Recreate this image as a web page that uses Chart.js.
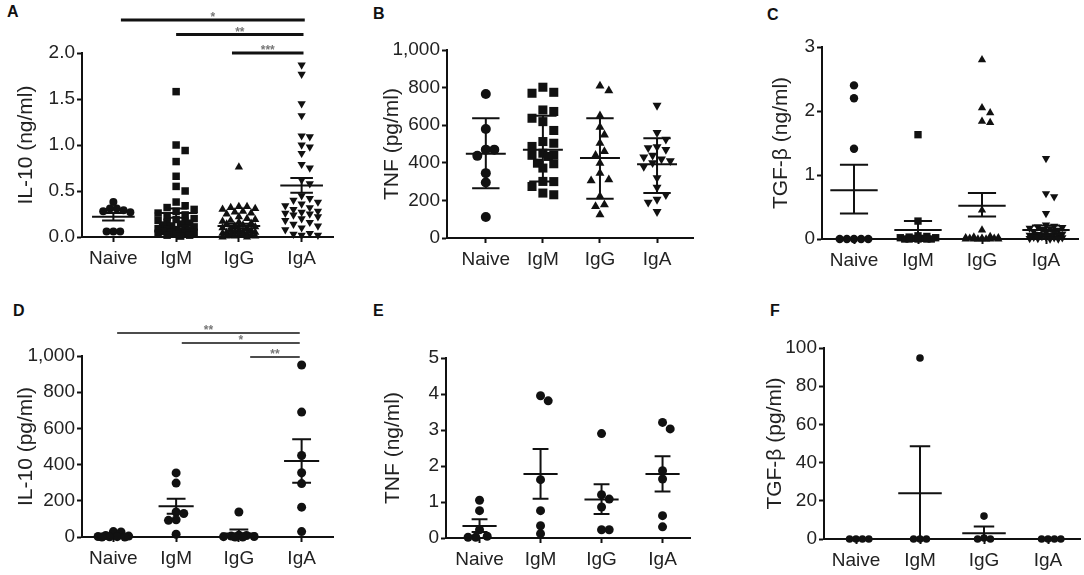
<!DOCTYPE html>
<html>
<head>
<meta charset="utf-8">
<script src="https://cdn.jsdelivr.net/npm/chart.js@4.4.1/dist/chart.umd.min.js"></script>
<style>
  body { margin: 0; background: #fff; width: 1084px; height: 575px; position: relative; overflow: hidden; }
  canvas { position: absolute; }
  .lbl { position: absolute; font: bold 16px Arial, "Liberation Sans", sans-serif; line-height: 1; color: #111; }
</style>
</head>
<body>
<div class="lbl" style="left:7px;top:4px">A</div>
<div class="lbl" style="left:373px;top:6px">B</div>
<div class="lbl" style="left:767px;top:7px">C</div>
<div class="lbl" style="left:13px;top:303px">D</div>
<div class="lbl" style="left:373px;top:303px">E</div>
<div class="lbl" style="left:770px;top:303px">F</div>
<canvas id="chartA"></canvas>
<canvas id="chartB"></canvas>
<canvas id="chartC"></canvas>
<canvas id="chartD"></canvas>
<canvas id="chartE"></canvas>
<canvas id="chartF"></canvas>
<script>
var groups = ["Naive", "IgM", "IgG", "IgA"];

// A - IL-10 (ng/ml)
var aNaive = [0.38, 0.31, 0.31, 0.29, 0.28, 0.27, 0.06, 0.06, 0.06];
var aIgM = [1.58, 1.0, 0.94, 0.82, 0.66, 0.55, 0.50, 0.38, 0.34, 0.32, 0.30, 0.28, 0.26, 0.24, 0.22, 0.20, 0.19, 0.18, 0.17, 0.16,
  0.15, 0.14, 0.13, 0.12, 0.11, 0.10, 0.09, 0.08, 0.08, 0.07, 0.06, 0.06, 0.05, 0.05, 0.04, 0.04, 0.03, 0.02, 0.02, 0.01];
var aIgG = [0.76, 0.33, 0.33, 0.32, 0.31, 0.30, 0.28, 0.27, 0.26, 0.25, 0.22, 0.20, 0.19, 0.18, 0.17, 0.16, 0.15, 0.14, 0.13, 0.12,
  0.11, 0.10, 0.09, 0.08, 0.08, 0.07, 0.06, 0.06, 0.05, 0.05, 0.04, 0.04, 0.03, 0.03, 0.02, 0.02, 0.01, 0.01, 0.01, 0.0, 0.0];
var aIgA = [1.87, 1.77, 1.45, 1.32, 1.10, 1.09, 1.00, 0.98, 0.91, 0.79, 0.75, 0.62, 0.58, 0.45, 0.42, 0.40, 0.38, 0.36, 0.34,
  0.32, 0.30, 0.28, 0.27, 0.26, 0.25, 0.24, 0.22, 0.20, 0.18, 0.16, 0.14, 0.12, 0.10, 0.08, 0.04, 0.03, 0.02, 0.02];
var aMean = [0.22, 0.26, 0.12, 0.56];
var aUpper = [0.26, 0.31, 0.145, 0.64];
var aLower = [0.18, 0.21, 0.095, 0.48];
var aSigFrom = [1.12, 2.0, 2.89];
var aSigTo = [4.05, 4.03, 4.03];
var aSigLevel = [2.36, 2.2, 2.0];
var aSigText = ["*", "**", "***"];

// B - TNF (pg/ml), mean +/- SD
var bNaive = [766, 580, 470, 470, 437, 345, 295, 112];
var bIgM = [802, 775, 770, 681, 673, 637, 619, 572, 513, 504, 487, 451, 442, 440, 434, 398, 395, 372, 301, 300, 274, 239, 230];
var bIgG = [809, 784, 650, 590, 549, 504, 460, 440, 398, 345, 310, 305, 221, 177, 168, 124];
var bIgA = [705, 560, 525, 485, 480, 470, 440, 430, 420, 410, 400, 380, 320, 270, 230, 205, 190, 140];
var bMean = [448, 469, 425, 392];
var bUpper = [637, 650, 637, 530];
var bLower = [265, 300, 209, 240];

// C - TGF-b (ng/ml)
var cNaive = [2.40, 2.20, 1.41, 0, 0, 0, 0, 0];
var cIgM = [1.63, 0.28, 0.05, 0.04, 0.03, 0.02, 0.02, 0.01, 0.01, 0, 0, 0, 0, 0];
var cIgG = [2.80, 2.05, 1.97, 1.84, 1.82, 0.45, 0.14, 0.04, 0.03, 0.02, 0.02, 0.01, 0.01, 0.01, 0, 0, 0, 0, 0, 0, 0];
var cIgA = [1.26, 0.71, 0.66, 0.40, 0.22, 0.20, 0.19, 0.18, 0.17, 0.16, 0.15, 0.14, 0.12, 0.10, 0.09, 0.08, 0.07, 0.06,
  0.05, 0.05, 0.04, 0.03, 0.03, 0.02, 0.02, 0.01, 0.01, 0, 0];
var cMean = [0.76, 0.14, 0.52, 0.14];
var cUpper = [1.16, 0.28, 0.72, 0.21];
var cLower = [0.40, 0.0, 0.35, 0.08];

// D - IL-10 (pg/ml)
var dNaive = [30, 28, 8, 5, 3, 2, 1, 0, 0];
var dIgM = [354, 298, 138, 130, 95, 92, 15];
var dIgG = [138, 10, 8, 5, 3, 2, 0, 0];
var dIgA = [950, 690, 450, 355, 295, 165, 30];
var dMean = [10, 170, 20, 420];
var dUpper = [18, 212, 42, 540];
var dLower = [3, 128, 0, 300];
var dSigFrom = [1.06, 2.09, 3.18];
var dSigTo = [3.97, 3.97, 3.97];
var dSigLevel = [1127, 1072, 994];
var dSigText = ["**", "*", "**"];

// E - TNF (ng/ml)
var eNaive = [1.05, 0.76, 0.23, 0.05, 0.02, 0.02];
var eIgM = [3.95, 3.81, 1.62, 0.76, 0.34, 0.12];
var eIgG = [2.90, 1.20, 1.08, 0.86, 0.23, 0.23];
var eIgA = [3.21, 3.03, 1.87, 1.64, 0.62, 0.31];
var eMean = [0.33, 1.78, 1.07, 1.78];
var eUpper = [0.52, 2.47, 1.49, 2.27];
var eLower = [0.17, 1.09, 0.67, 1.29];

// F - TGF-b (pg/ml)
var fNaive = [0, 0, 0, 0];
var fIgM = [94.8, 0, 0, 0];
var fIgG = [12, 0.5, 0, 0];
var fIgA = [0, 0, 0, 0];
var fMean = [0, 24, 3, 0];
var fUpper = [0, 48.5, 6.5, 0];
var fLower = [0, 0, 0, 0];

var mixedShapes = ["circle", "rect", "triangle", "triangle"];
var mixedRot = [0, 0, 0, 180];
var dots = ["circle", "circle", "circle", "circle"];
var noRot = [0, 0, 0, 0];
var ink = "#111";
var fontFam = 'Arial, "Liberation Sans", sans-serif';

Chart.defaults.font.family = fontFam;
Chart.defaults.color = "#222";

// simple beeswarm: spread points sideways so they don't sit on top of each other
function swarm(vals, r, ppuY, spread) {
  var d = 2 * r * 0.85, step = d / 2;
  var placed = [], offs = [];
  var order = vals.map(function (v, i) { return i; }).sort(function (a, b) { return vals[b] - vals[a]; });
  order.forEach(function (i) {
    var y = vals[i] * ppuY, best = 0, bestGap = -1;
    for (var k = 0; k * step <= spread * 2 + step; k++) {
      var x = (k % 2 ? 1 : -1) * Math.ceil(k / 2) * step;
      if (Math.abs(x) > spread) continue;
      var gap = Infinity;
      placed.forEach(function (q) { gap = Math.min(gap, Math.hypot(q[0] - x, q[1] - y)); });
      if (gap >= d) { best = x; bestGap = gap; break; }
      if (gap > bestGap) { best = x; bestGap = gap; }
    }
    placed.push([best, y]);
    offs[i] = best;
  });
  return offs;
}

// mean line + error bar with caps, as one broken line
function errorSet(p) {
  var pts = [];
  for (var g = 0; g < 4; g++) {
    var c = g + 1, m = p.mean[g], hi = p.upper[g], lo = p.lower[g];
    pts.push({ x: c - p.halfMean, y: m }, { x: c + p.halfMean, y: m }, { x: c, y: null });
    pts.push({ x: c, y: lo }, { x: c, y: hi }, { x: c, y: null });
    pts.push({ x: c - p.halfCap, y: hi }, { x: c + p.halfCap, y: hi }, { x: c, y: null });
    pts.push({ x: c - p.halfCap, y: lo }, { x: c + p.halfCap, y: lo }, { x: c, y: null });
  }
  return { data: pts, showLine: true, pointRadius: 0, borderColor: ink, borderWidth: 2, spanGaps: false, clip: false };
}

function sigPlugin(p) {
  return {
    id: "sigBars",
    afterDatasetsDraw: function (chart) {
      if (!p.sigFrom) return;
      var ctx = chart.ctx, xs = chart.scales.x, ys = chart.scales.y;
      ctx.save();
      for (var i = 0; i < p.sigFrom.length; i++) {
        var x1 = xs.getPixelForValue(p.sigFrom[i]);
        var x2 = xs.getPixelForValue(p.sigTo[i]);
        var y = ys.getPixelForValue(p.sigLevel[i]);
        ctx.strokeStyle = ink;
        ctx.lineWidth = p.sigWidth;
        ctx.beginPath();
        ctx.moveTo(x1, y);
        ctx.lineTo(x2, y);
        ctx.stroke();
        ctx.fillStyle = "#777";
        ctx.font = "bold 12px " + fontFam;
        ctx.textAlign = "center";
        ctx.textBaseline = "alphabetic";
        ctx.fillText(p.sigText[i], (x1 + x2) / 2, y + 1);
      }
      ctx.restore();
    }
  };
}

function makeChart(p) {
  var cv = document.getElementById(p.id);
  cv.width = p.w;
  cv.height = p.h;
  cv.style.left = p.left + "px";
  cv.style.top = p.top + "px";

  var L = p.area[0] - p.left, T = p.area[1] - p.top, R = p.area[2] - p.left, B = p.area[3] - p.top;
  var ppuX = (R - L) / (p.xMax - p.xMin);
  var ppuY = (B - T) / p.yMax;

  var datasets = p.series.map(function (vals, g) {
    var offs = swarm(vals, p.radius[g], ppuY, p.spread);
    return {
      data: vals.map(function (v, i) { return { x: g + 1 + offs[i] / ppuX, y: v }; }),
      pointStyle: p.shapes[g],
      pointRotation: p.rot[g],
      pointRadius: p.radius[g],
      pointBackgroundColor: ink,
      pointBorderWidth: 0,
      clip: false
    };
  });
  datasets.push(errorSet(p));

  var titleSize = 21;

  new Chart(cv, {
    type: "scatter",
    data: { datasets: datasets },
    plugins: [sigPlugin(p)],
    options: {
      responsive: false,
      animation: false,
      events: [],
      layout: { padding: { left: 0, top: T, right: p.w - R, bottom: 0 } },
      plugins: { legend: { display: false }, tooltip: { enabled: false } },
      scales: {
        x: {
          type: "linear",
          min: p.xMin,
          max: p.xMax,
          afterBuildTicks: function (s) { s.ticks = [1, 2, 3, 4].map(function (v) { return { value: v }; }); },
          afterFit: function (s) { s.height = p.h - B; },
          ticks: {
            autoSkip: false,
            maxRotation: 0,
            padding: 5,
            font: { size: 19 },
            callback: function (v) { return groups[v - 1]; }
          },
          grid: { drawOnChartArea: false, drawTicks: true, tickLength: 5, tickWidth: 2, tickColor: ink },
          border: { display: true, color: ink, width: 2 }
        },
        y: {
          min: 0,
          max: p.yMax,
          afterFit: function (s) { s.width = L; },
          ticks: {
            stepSize: p.yStep,
            padding: 2,
            font: { size: 19 },
            callback: function (v) { return p.fixed ? v.toFixed(p.fixed) : v.toLocaleString("en-US"); }
          },
          grid: { drawOnChartArea: false, drawTicks: true, tickLength: 5, tickWidth: 2, tickColor: ink },
          border: { display: true, color: ink, width: 2 },
          title: {
            display: true,
            text: p.title,
            color: "#222",
            font: { size: titleSize },
            padding: { top: p.titleCenter - titleSize * 0.6, bottom: 0 }
          }
        }
      }
    }
  });
}

var panels = [
  { id: "chartA", left: 0, top: 0, w: 361, h: 287, area: [82, 53, 333, 237], xMin: 0.5, xMax: 4.5, yMax: 2, yStep: 0.5, fixed: 1,
    title: "IL-10 (ng/ml)", titleCenter: 26, series: [aNaive, aIgM, aIgG, aIgA], mean: aMean, upper: aUpper, lower: aLower,
    shapes: mixedShapes, rot: mixedRot, radius: [4, 5.3, 4.8, 4.8], halfMean: 0.34, halfCap: 0.18, spread: 20,
    sigFrom: aSigFrom, sigTo: aSigTo, sigLevel: aSigLevel, sigText: aSigText, sigWidth: 3 },
  { id: "chartB", left: 361, top: 0, w: 361, h: 287, area: [447, 50, 693, 238], xMin: 0.32, xMax: 4.63, yMax: 1000, yStep: 200, fixed: 0,
    title: "TNF (pg/ml)", titleCenter: 31.5, series: [bNaive, bIgM, bIgG, bIgA], mean: bMean, upper: bUpper, lower: bLower,
    shapes: mixedShapes, rot: mixedRot, radius: [5, 6.4, 5.2, 5.2], halfMean: 0.35, halfCap: 0.24, spread: 16 },
  { id: "chartC", left: 722, top: 0, w: 362, h: 287, area: [822, 47, 1078, 239], xMin: 0.5, xMax: 4.5, yMax: 3, yStep: 1, fixed: 0,
    title: "TGF-\u03b2 (ng/ml)", titleCenter: 59, series: [cNaive, cIgM, cIgG, cIgA], mean: cMean, upper: cUpper, lower: cLower,
    shapes: mixedShapes, rot: mixedRot, radius: [4.2, 5.2, 4.8, 4.8], halfMean: 0.37, halfCap: 0.22, spread: 20 },
  { id: "chartD", left: 0, top: 287, w: 361, h: 288, area: [82, 356, 333, 537], xMin: 0.5, xMax: 4.5, yMax: 1000, yStep: 200, fixed: 0,
    title: "IL-10 (pg/ml)", titleCenter: 26, series: [dNaive, dIgM, dIgG, dIgA], mean: dMean, upper: dUpper, lower: dLower,
    shapes: dots, rot: noRot, radius: [4.5, 4.5, 4.5, 4.5], halfMean: 0.28, halfCap: 0.15, spread: 16,
    sigFrom: dSigFrom, sigTo: dSigTo, sigLevel: dSigLevel, sigText: dSigText, sigWidth: 1.5 },
  { id: "chartE", left: 361, top: 287, w: 361, h: 288, area: [446, 358, 690, 538], xMin: 0.45, xMax: 4.45, yMax: 5, yStep: 1, fixed: 0,
    title: "TNF (ng/ml)", titleCenter: 32, series: [eNaive, eIgM, eIgG, eIgA], mean: eMean, upper: eUpper, lower: eLower,
    shapes: dots, rot: noRot, radius: [4.5, 4.5, 4.5, 4.5], halfMean: 0.28, halfCap: 0.13, spread: 14 },
  { id: "chartF", left: 722, top: 287, w: 362, h: 288, area: [824, 348, 1082, 539], xMin: 0.5, xMax: 4.5, yMax: 100, yStep: 20, fixed: 0,
    title: "TGF-\u03b2 (pg/ml)", titleCenter: 53, series: [fNaive, fIgM, fIgG, fIgA], mean: fMean, upper: fUpper, lower: fLower,
    shapes: dots, rot: noRot, radius: [3.8, 3.8, 3.8, 3.8], halfMean: 0.34, halfCap: 0.16, spread: 16 }
];

panels.forEach(makeChart);
</script>
</body>
</html>
